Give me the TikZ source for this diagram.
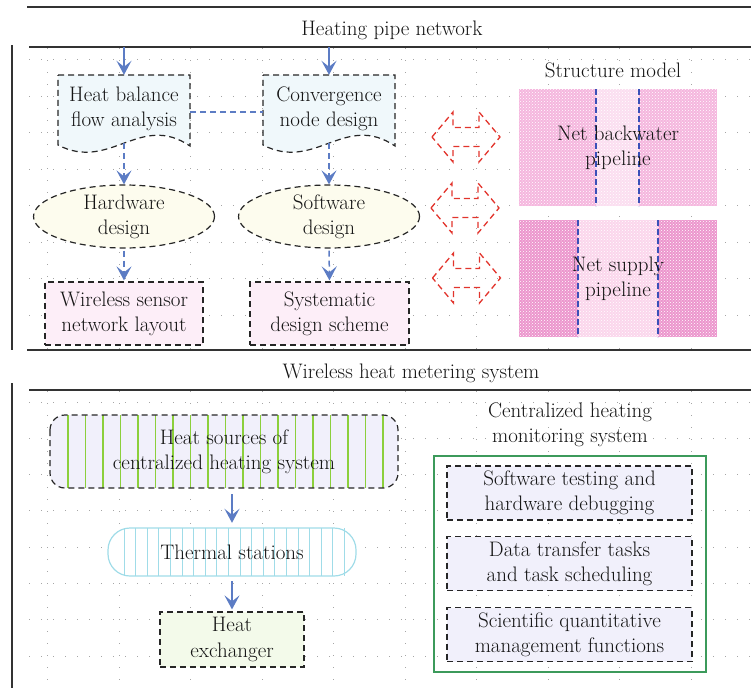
\documentclass[tikz,border=0pt]{standalone}
\usepackage{fontspec}
\usetikzlibrary{arrows.meta,patterns,shapes.geometric,calc}
\definecolor{arrblue}{RGB}{92,124,196}
\definecolor{docfill}{RGB}{240,248,251}
\definecolor{ellfill}{RGB}{253,252,238}
\definecolor{pinkfill}{RGB}{253,238,248}
\definecolor{lavfill}{RGB}{241,240,251}
\definecolor{hsgreen}{RGB}{140,207,60}
\definecolor{tscyan}{RGB}{160,220,232}
\definecolor{hefill}{RGB}{243,250,234}
\definecolor{boxgreen}{RGB}{60,154,91}
\definecolor{arrred}{RGB}{226,52,44}
\definecolor{pinkA}{RGB}{245,182,222}
\definecolor{pinkB}{RGB}{251,222,240}
\definecolor{pinkC}{RGB}{236,150,205}
\definecolor{pinkD}{RGB}{251,214,236}
\definecolor{midblue}{RGB}{58,80,184}
\definecolor{txt}{RGB}{20,20,20}
\newcommand\bodyfont{\fontsize{21}{25.3}\selectfont\addfontfeatures{FakeBold=0.35}}
\newcommand\dblarrow[2]{%
  \draw[redarr] (#1-34,#2) -- (#1-13,#2-25) -- (#1-13,#2-9.5) -- (#1+13,#2-9.5)
    -- (#1+13,#2-25) -- (#1+34,#2) -- (#1+13,#2+25) -- (#1+13,#2+9.5)
    -- (#1-13,#2+9.5) -- (#1-13,#2+25) -- cycle;}
\begin{document}
\begin{tikzpicture}[x=1pt,y=-1pt,
  every node/.style={font=\bodyfont, text=txt, align=center},
  gridline/.style={gray!70, line width=0.9pt, dash pattern=on 1pt off 11pt},
  rulel/.style={black!80, line width=1.5pt},
  bdash/.style={draw=black!85, line width=1.2pt, dash pattern=on 6pt off 4pt},
  conn/.style={arrblue, line width=1.5pt, -{Stealth[length=14pt,width=15pt,inset=6pt]}},
  dconn/.style={conn, dash pattern=on 6pt off 4pt},
  bline/.style={arrblue, line width=1.3pt, dash pattern=on 6pt off 4pt},
  redarr/.style={arrred, line width=1.3pt, dash pattern=on 6pt off 4pt},
  boxn/.style={bdash, inner sep=0pt},
  plain/.style={inner sep=0pt}]
\useasboundingbox (0,0) rectangle (751,688);
% grids
\begin{scope}
\clip (29,47) rectangle (751,350);
\foreach \y in {59.5,96,...,316} \draw[gridline] (29,\y) -- (751,\y);
\foreach \x in {47.5,119,...,692} \draw[gridline] (\x,48) -- (\x,350);
\end{scope}
\begin{scope}
\clip (29,390) rectangle (751,688);
\foreach \y in {402,438.3,...,657} \draw[gridline] (29,\y) -- (751,\y);
\foreach \x in {47.5,119,...,692} \draw[gridline] (\x,391) -- (\x,688);
\end{scope}
% rules
\draw[rulel] (27,7) -- (751,7);
\draw[rulel] (29,47) -- (751,47);
\draw[rulel] (27,350) -- (751,350);
\draw[rulel] (29,390) -- (751,390);
\draw[rulel, line width=1.2pt] (12,45) -- (12,350);
\draw[rulel, line width=1.2pt] (12,383) -- (12,688);
\node (t1) at (392,30) {Heating pipe network};
\node (t2) at (411,373) {Wireless heat metering system};
% documents
\filldraw[bdash, fill=docfill] (58,75) -- (190,75) -- (190,146) .. controls (140,112) and (110,172) .. (58,145) -- cycle;
\filldraw[bdash, fill=docfill] (263,75) -- (395,75) -- (395,146) .. controls (345,112) and (315,172) .. (263,145) -- cycle;
\node[plain, minimum width=132pt, minimum height=68pt] (hb) at (124,109) {Heat balance\\flow analysis};
\node[plain, minimum width=132pt, minimum height=68pt] (cn) at (329,109) {Convergence\\node design};
\draw[bline] ([yshift=-3pt]hb.east) -- ([yshift=-3pt]cn.west);
% ellipses
\node[ellipse, boxn, fill=ellfill, minimum width=181pt, minimum height=63pt] (hw) at (124,216.5) {Hardware\\design};
\node[ellipse, boxn, fill=ellfill, minimum width=181pt, minimum height=63pt] (sw) at (329,216.5) {Software\\design};
% rects
\node[boxn, fill=pinkfill, minimum width=158pt, minimum height=63pt] (ws) at (124,313.5) {Wireless sensor\\network layout};
\node[boxn, fill=pinkfill, minimum width=159pt, minimum height=63pt] (sd) at (329.5,313.5) {Systematic\\design scheme};
% arrows
\coordinate (in1) at (124,47);
\coordinate (in2) at (329,47);
\draw[conn] (in1) -- (hb.north);
\draw[conn] (in2) -- (cn.north);
\draw[dconn] (hb.south) -- (hw.north);
\draw[dconn] (cn.south) -- (sw.north);
\draw[dconn, shorten <=2pt, shorten >=1pt] (hw.south) -- (ws.north);
\draw[dconn, shorten <=2pt, shorten >=1pt] (sw.south) -- (sd.north);
% red double arrows
\dblarrow{466}{137}
\dblarrow{465}{208}
\dblarrow{466.5}{278}
% pink pipelines
\fill[pinkA] (519,89) rectangle (717,206);
\fill[pinkB] (596,89) rectangle (639,206);
\fill[pattern=crosshatch dots, pattern color=white] (519,89) rectangle (717,206);
\draw[midblue, line width=1.2pt, dash pattern=on 6pt off 3pt] (596,89) -- (596,206) (639,89) -- (639,206);
\fill[pinkC] (519,220) rectangle (717,337);
\fill[pinkD] (578,220) rectangle (658,337);
\fill[pattern=crosshatch dots, pattern color=white] (519,220) rectangle (717,337);
\draw[midblue, line width=1.2pt, dash pattern=on 6pt off 3pt] (578,220) -- (578,337) (658,220) -- (658,337);
\node (sm) at (613,70) {Structure model};
\node (nb) at (618,147.5) {Net backwater\\pipeline};
\node (ns) at (618,278.5) {Net supply\\pipeline};
% bottom left
\fill[lavfill, rounded corners=15pt] (50,415) rectangle (398,488);
\foreach \x in {68,85.5,...,384} \draw[hsgreen, line width=1.5pt] (\x,415) -- (\x,488);
\draw[bdash, rounded corners=15pt] (50,415) rectangle (398,488);
\node[plain, minimum width=348pt, minimum height=73pt] (hs) at (224,451.5) {Heat sources of\\centralized heating system};
\fill[white, rounded corners=22pt] (108,528) rectangle (356,576);
\foreach \x in {124,135.6,...,345} \draw[tscyan, line width=1pt] (\x,528) -- (\x,576);
\draw[tscyan, line width=1.2pt, rounded corners=22pt] (108,528) rectangle (356,576);
\node[plain, minimum width=248pt, minimum height=48pt] (ts) at (232,552) {Thermal stations};
\node[boxn, fill=hefill, minimum width=144pt, minimum height=55pt] (he) at (232,639.5) {Heat\\exchanger};
\draw[conn, shorten <=6pt, shorten >=5pt] (ts.north |- hs.south) -- (ts.north);
\draw[conn, shorten <=5pt, shorten >=2pt] (ts.south) -- (he.north);
% bottom right
\node (cm) at (570,425) {Centralized heating\\monitoring system};
\node[draw=boxgreen, line width=1.3pt, minimum width=272pt, minimum height=216pt, inner sep=0pt] (gb) at (570,564) {};
\node[boxn, fill=lavfill, minimum width=245pt, minimum height=54pt] (b1) at (569.5,493) {Software testing and\\hardware debugging};
\node[boxn, fill=lavfill, minimum width=245pt, minimum height=54pt] (b2) at (569.5,563.5) {Data transfer tasks\\and task scheduling};
\node[boxn, fill=lavfill, minimum width=245pt, minimum height=54pt] (b3) at (569.5,634.5) {Scientific quantitative\\management functions};
\end{tikzpicture}
\end{document}
